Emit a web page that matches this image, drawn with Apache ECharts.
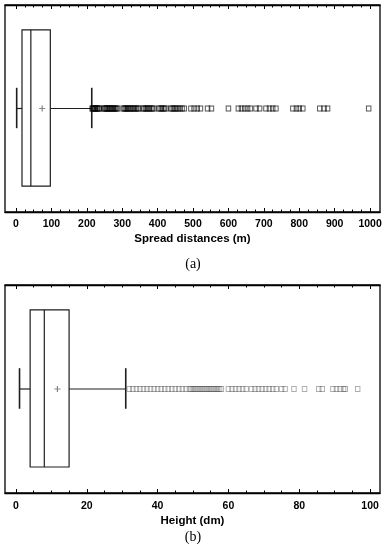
<!DOCTYPE html>
<html><head><meta charset="utf-8">
<script src="https://cdn.jsdelivr.net/npm/echarts@6/dist/echarts.min.js"></script>
<style>html,body{margin:0;padding:0;background:#fff}#c{width:386px;height:550px}</style>
</head><body><div id="c"></div>
<script>
// Panel (a): spread distances (m)
const statsA = [2, 17, 42, 97, 214];   // lower whisker, Q1, median, Q3, upper whisker
const meanA = 74;
const outliersA = [215, 217, 219, 222, 224, 226, 229, 231, 234, 236, 248, 251, 253, 256, 258, 261, 264, 266, 269, 272, 275, 278, 281, 284, 287, 303, 306, 309, 312, 315, 318, 322, 325, 329, 332, 336, 340, 344, 347, 359, 362, 366, 370, 373, 377, 381, 385, 389, 403, 407, 411, 415, 419, 423, 437, 441, 445, 449, 453, 458, 463, 469, 475,
  494, 503, 512, 521, 541, 552, 600, 628, 637, 646, 654, 662, 678, 688, 706, 716, 725, 734, 782, 792, 800, 810, 858, 870, 880, 996];
const ticksA = [0, 100, 200, 300, 400, 500, 600, 700, 800, 900, 1000];
const minorTicksA = [25, 50, 75, 125, 150, 175, 225, 250, 275, 325, 350, 375, 425, 450, 475, 525, 550, 575, 625, 650, 675, 725, 750, 775, 825, 850, 875, 925, 950, 975];
const rangeA = [-31, 1028];
const titleA = 'Spread distances (m)';

// Panel (b): height (dm)
const statsB = [1, 4, 8, 15, 31];
const meanB = 11.7;
const outliersB = [32, 33, 34, 35, 36, 37, 38, 39, 40, 41, 42, 43, 44, 45, 46, 47, 48,
  49, 49.5, 50, 50.5, 51, 51.5, 52, 52.5, 53, 53.5, 54, 54.5, 55, 55.5, 56, 56.5, 57, 57.5, 58,
  60, 61, 62, 63, 64, 65, 66.5, 67.5, 68.5, 69.5, 70.5, 71.5, 72.5, 73.5, 75, 76, 78.5, 81.5, 85.5, 86.5, 89.5, 90.5, 91.5, 92.5, 93, 96.5];
const ticksB = [0, 20, 40, 60, 80, 100];
const minorTicksB = [5, 10, 15, 25, 30, 35, 45, 50, 55, 65, 70, 75, 85, 90, 95];
const rangeB = [-3.1, 102.8];
const titleB = 'Height (dm)';

const chart = echarts.init(document.getElementById('c'), null, {renderer: 'canvas'});
const LABEL_FONT = {fontFamily: 'Liberation Sans, Arial', fontWeight: 'bold', fontSize: 10.5, color: '#000'};

function axesFor(gridIndex, range, ticks, minor, name, labelMargin, nameGap) {
  const base = {type: 'value', gridIndex, min: range[0], max: range[1], splitLine: {show: false}, z: 10};
  return [
    Object.assign({}, base, {
      position: 'bottom',
      axisLine: {show: true, onZero: false, lineStyle: {color: '#000', width: 1.3}},
      axisTick: {show: true, inside: true, length: 4, customValues: ticks, lineStyle: {color: '#000', width: 1}},
      axisLabel: Object.assign({show: true, customValues: ticks, margin: labelMargin, formatter: v => String(v)}, LABEL_FONT),
      name, nameLocation: 'middle', nameGap,
      nameTextStyle: {fontFamily: 'Liberation Sans, Arial', fontWeight: 'bold', fontSize: 11.5, color: '#000', verticalAlign: 'top'}
    }),
    Object.assign({}, base, {
      position: 'bottom',
      axisLine: {show: false, onZero: false},
      axisTick: {show: true, inside: true, length: 2.5, customValues: minor, lineStyle: {color: '#000', width: 1}},
      axisLabel: {show: false}
    }),
    Object.assign({}, base, {
      position: 'top',
      axisLine: {show: true, onZero: false, lineStyle: {color: '#000', width: 1.3}},
      axisTick: {show: true, inside: true, length: 4, customValues: ticks, lineStyle: {color: '#000', width: 1}},
      axisLabel: {show: false}
    }),
    Object.assign({}, base, {
      position: 'top',
      axisLine: {show: false, onZero: false},
      axisTick: {show: true, inside: true, length: 2.5, customValues: minor, lineStyle: {color: '#000', width: 1}},
      axisLabel: {show: false}
    })
  ];
}

function boxRender(params, api) {
  const lo = api.coord([api.value(0), 0.5]);
  const q1 = api.coord([api.value(1), 0.5]);
  const md = api.coord([api.value(2), 0.5]);
  const q3 = api.coord([api.value(3), 0.5]);
  const hi = api.coord([api.value(4), 0.5]);
  const top = api.coord([api.value(1), 0.88])[1];
  const bot = api.coord([api.value(1), 0.125])[1];
  const ct = api.coord([api.value(1), 0.6])[1];
  const cb = api.coord([api.value(1), 0.405])[1];
  const cy = lo[1];
  const st = {stroke: '#1e1e1e', lineWidth: 1.2, fill: null};
  const cap = {stroke: '#1e1e1e', lineWidth: 1.6, fill: null};
  return {type: 'group', children: [
    {type: 'rect', shape: {x: q1[0], y: top, width: q3[0] - q1[0], height: bot - top}, style: st},
    {type: 'line', shape: {x1: md[0], y1: top, x2: md[0], y2: bot}, style: st},
    {type: 'line', shape: {x1: lo[0], y1: cy, x2: q1[0], y2: cy}, style: st},
    {type: 'line', shape: {x1: q3[0], y1: cy, x2: hi[0], y2: cy}, style: st},
    {type: 'line', shape: {x1: lo[0], y1: ct, x2: lo[0], y2: cb}, style: cap},
    {type: 'line', shape: {x1: hi[0], y1: ct, x2: hi[0], y2: cb}, style: cap}
  ]};
}

const PLUS = 'path://M4,0h2v4h4v2h-4v4h-2v-4h-4v-2h4z';

function seriesFor(gridIdx, stats, mean, outliers, outlierColor) {
  const xi = gridIdx * 4;
  return [
    {type: 'custom', xAxisIndex: xi, yAxisIndex: gridIdx, renderItem: boxRender,
     dimensions: ['lo', 'q1', 'med', 'q3', 'hi'], encode: {x: [0, 1, 2, 3, 4]},
     data: [stats], silent: true},
    {type: 'scatter', xAxisIndex: xi, yAxisIndex: gridIdx, symbol: 'rect', symbolSize: [4.5, 5],
     data: outliers.map(v => [v, 0.5]), silent: true,
     itemStyle: {color: 'rgba(0,0,0,0)', borderColor: outlierColor, borderWidth: 1}},
    {type: 'scatter', xAxisIndex: xi, yAxisIndex: gridIdx, symbol: PLUS, symbolSize: 6,
     data: [[mean, 0.5]], silent: true, itemStyle: {color: '#666'}}
  ];
}

chart.setOption({
  backgroundColor: '#fff',
  animation: false,
  grid: [
    {left: 5, right: 6, top: 5, height: 207, show: true, borderColor: '#000', borderWidth: 1.3, backgroundColor: 'transparent'},
    {left: 5, right: 6, top: 285, height: 208, show: true, borderColor: '#000', borderWidth: 1.3, backgroundColor: 'transparent'}
  ],
  xAxis: [].concat(
    axesFor(0, rangeA, ticksA, minorTicksA, titleA, 7, 21),
    axesFor(1, rangeB, ticksB, minorTicksB, titleB, 8, 22)
  ),
  yAxis: [
    {type: 'value', gridIndex: 0, min: 0, max: 1, show: false},
    {type: 'value', gridIndex: 1, min: 0, max: 1, show: false}
  ],
  graphic: [
    {type: 'text', left: 'center', top: 257, style: {text: '(a)', font: '14px "Liberation Serif", serif', fill: '#000'}},
    {type: 'text', left: 'center', top: 530, style: {text: '(b)', font: '14px "Liberation Serif", serif', fill: '#000'}}
  ],
  series: [].concat(
    seriesFor(0, statsA, meanA, outliersA, 'rgba(0,0,0,0.85)'),
    seriesFor(1, statsB, meanB, outliersB, 'rgba(70,70,70,0.55)')
  )
});
</script>
</body></html>
